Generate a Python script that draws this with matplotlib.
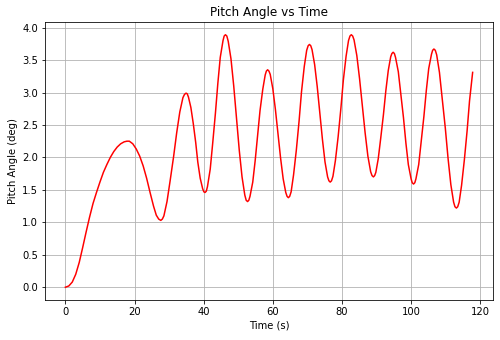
#!/usr/bin/env python

import numpy as np
from matplotlib import pyplot as plt

# values (time in s, pitch in deg)
time_s = [
    0, 1, 2, 3, 4, 5, 6, 7, 8, 9, 10, 11, 12, 13, 14, 15, 16, 17, 17.8,
    18.5, 19.5, 20.5, 21.5, 22.5, 23.5, 24.5, 25.5, 26.3, 27.0, 27.6,
    28.05, 28.5, 29.4, 30.3, 31.3, 32.2, 33.1, 34.0, 34.45, 34.9,
    35.25, 35.6, 36.3, 37.0, 37.7, 38.3, 39.0, 39.7, 40.06, 40.4,
    40.77, 41.1, 41.9, 42.6, 43.4, 44.1, 44.8, 45.6, 45.93, 46.3,
    46.7, 47.1, 47.9, 48.7, 49.5, 50.3, 51.1, 51.9, 52.3, 52.7,
    53.06, 53.4, 54.2, 54.9, 55.6, 56.3, 57.1, 57.8, 58.14, 58.5,
    58.88, 59.25, 60.0, 60.75, 61.5, 62.25, 63.0, 63.75, 64.13, 64.5,
    64.88, 65.3, 66.0, 66.8, 67.6, 68.3, 69.1, 69.8, 70.22, 70.6,
    70.98, 71.35, 72.1, 72.85, 73.6, 74.35, 75.1, 75.85, 76.23, 76.6,
    76.98, 77.4, 78.1, 78.9, 79.7, 80.4, 81.2, 81.9, 82.32, 82.7,
    83.1, 83.5, 84.3, 85.1, 85.9, 86.7, 87.5, 88.3, 88.7, 89.1,
    89.46, 89.8, 90.5, 91.2, 92.0, 92.7, 93.4, 94.1, 94.44, 94.8,
    95.17, 95.5, 96.3, 97.0, 97.8, 98.5, 99.2, 100.0, 100.33, 100.7,
    101.07, 101.4, 102.2, 102.9, 103.7, 104.4, 105.1, 105.9, 106.23, 106.6,
    107.0, 107.4, 108.2, 109.0, 109.9, 110.7, 111.5, 112.3, 112.69, 113.1,
    113.48, 113.9, 114.6, 115.4, 116.2, 116.9, 117.8,
]

pitch_deg = [
    0.0, 0.02, 0.08, 0.20, 0.38, 0.61, 0.85, 1.08, 1.29, 1.46, 1.62, 1.77,
    1.89, 2.00, 2.09, 2.16, 2.21, 2.24, 2.25,
    2.25, 2.21, 2.13, 2.02, 1.87, 1.68, 1.46, 1.25, 1.11, 1.05, 1.03,
    1.05, 1.10, 1.32, 1.64, 2.01, 2.38, 2.70, 2.92, 2.97, 2.99,
    2.98, 2.93, 2.77, 2.52, 2.23, 1.93, 1.68, 1.52, 1.47, 1.46,
    1.48, 1.55, 1.82, 2.21, 2.68, 3.14, 3.54, 3.80, 3.87, 3.89,
    3.87, 3.79, 3.52, 3.10, 2.61, 2.11, 1.70, 1.42, 1.34, 1.32,
    1.34, 1.40, 1.62, 1.95, 2.34, 2.72, 3.05, 3.27, 3.33, 3.35,
    3.33, 3.28, 3.06, 2.74, 2.37, 1.99, 1.67, 1.46, 1.40, 1.38,
    1.40, 1.47, 1.73, 2.11, 2.56, 3.01, 3.40, 3.65, 3.72, 3.74,
    3.72, 3.66, 3.43, 3.09, 2.68, 2.28, 1.93, 1.70, 1.64, 1.62,
    1.64, 1.71, 1.95, 2.32, 2.76, 3.19, 3.56, 3.80, 3.87, 3.89,
    3.87, 3.81, 3.57, 3.21, 2.80, 2.38, 2.02, 1.78, 1.72, 1.70,
    1.72, 1.77, 1.98, 2.29, 2.66, 3.03, 3.34, 3.55, 3.60, 3.62,
    3.60, 3.54, 3.32, 2.99, 2.61, 2.22, 1.89, 1.67, 1.61, 1.59,
    1.61, 1.67, 1.89, 2.23, 2.63, 3.03, 3.37, 3.59, 3.65, 3.67,
    3.65, 3.58, 3.31, 2.91, 2.45, 1.98, 1.58, 1.31, 1.24, 1.22,
    1.24, 1.31, 1.57, 1.96, 2.41, 2.87, 3.31,
]


def main():
    t = np.array(time_s)
    p = np.array(pitch_deg)

    fig, ax = plt.subplots(figsize=(500/72, 340/72), dpi=72)
    fig.subplots_adjust(left=0.09, right=0.986, bottom=0.118, top=0.935)

    ax.plot(t, p, color='red', linewidth=1.5)
    ax.set_title('Pitch Angle vs Time')
    ax.set_xlabel('Time (s)')
    ax.set_ylabel('Pitch Angle (deg)')
    ax.grid(True)

    fig.savefig('out.png', dpi=72)


if __name__ == '__main__':
    main()
